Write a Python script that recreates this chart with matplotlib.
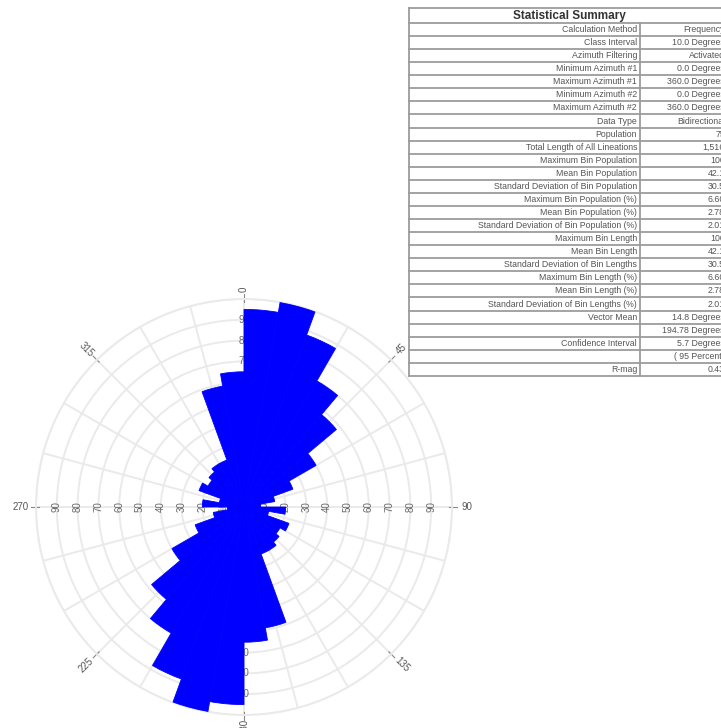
import numpy as np
import matplotlib
matplotlib.use("Agg")
import matplotlib.pyplot as plt

plt.rcParams['font.family'] = ['Liberation Sans', 'DejaVu Sans']

# rose diagram data: 10 degree classes, bidirectional
bin_start = np.arange(0, 360, 10)
bin_pop = [95, 100, 88, 70, 58, 40, 25, 15, 8,
           20, 12, 23, 20, 22, 24, 24, 59, 65,
           95, 100, 88, 70, 58, 40, 25, 15, 8,
           20, 12, 23, 20, 22, 24, 24, 59, 65]
ring_values = [10, 20, 30, 40, 50, 60, 70, 80, 90]
dir_labels = [0, 45, 90, 135, 180, 225, 270, 315]

# statistical summary table
stat_labels = ["Calculation Method", "Class Interval", "Azimuth Filtering",
               "Minimum Azimuth #1", "Maximum Azimuth #1", "Minimum Azimuth #2",
               "Maximum Azimuth #2", "Data Type", "Population",
               "Total Length of All Lineations", "Maximum Bin Population",
               "Mean Bin Population", "Standard Deviation of Bin Population",
               "Maximum Bin Population (%)", "Mean Bin Population (%)",
               "Standard Deviation of Bin Population (%)", "Maximum Bin Length",
               "Mean Bin Length", "Standard Deviation of Bin Lengths",
               "Maximum Bin Length (%)", "Mean Bin Length (%)",
               "Standard Deviation of Bin Lengths (%)", "Vector Mean", "",
               "Confidence Interval", "", "R-mag"]
stat_values = ["Frequency", "10.0 Degrees", "Activated", "0.0 Degrees",
               "360.0 Degrees", "0.0 Degrees", "360.0 Degrees", "Bidirectional",
               "75", "1,516", "100", "42.1", "30.5", "6.60", "2.78", "2.01",
               "100", "42.1", "30.5", "6.60", "2.78", "2.01", "14.8 Degrees",
               "194.78 Degrees", "5.7 Degrees", "( 95 Percent)", "0.43"]

W, H = 721, 728
fig = plt.figure(figsize=(W / 100, H / 100), dpi=100)

# ---- rose ----
cx, cy, R = 244, 507, 208
ax = fig.add_axes([(cx - R) / W, (H - cy - R) / H, 2 * R / W, 2 * R / H],
                  projection='polar')
ax.set_theta_zero_location('N')
ax.set_theta_direction(-1)
ax.set_ylim(0, 100)
ax.set_yticks(range(10, 101, 10))
ax.set_yticklabels([])
ax.set_xticks(np.deg2rad(np.arange(0, 360, 15)))
ax.set_xticklabels([])
ax.tick_params(axis='both', length=0)
ax.set_axisbelow(True)
ax.grid(True, color='#eaeaea', lw=1.4)
ax.spines['polar'].set_color('#eaeaea')
ax.spines['polar'].set_linewidth(1.4)

ax.bar(np.deg2rad(bin_start + 5), bin_pop, width=np.deg2rad(10),
       color='#0000ff', edgecolor='#0000ff', linewidth=0.6, zorder=3)

for az in [0, 90, 180, 270]:
    for r in ring_values:
        ax.text(np.deg2rad(az), r, str(r), rotation=90 if az % 180 else 0,
                ha='center', va='center', fontsize=7, color='#666666', zorder=2)

for az in dir_labels:
    th = np.deg2rad(az)
    ax.plot([th, th], [98.5, 102.5], color='#888888', lw=0.8, clip_on=False, zorder=2)
    rot = 90 - az
    while rot > 90:
        rot -= 180
    while rot <= -90:
        rot += 180
    if az == 0:
        rr = 104.6
    elif az == 180:
        rr = 105.8
    else:
        rr = 107.3
    ax.text(th, rr, str(az), rotation=rot, ha='center', va='center',
            fontsize=7, color='#555555', clip_on=False)

# ---- table ----
tl, tr, ttop = 409, 729, 8
hdr_bot = 23
row_h = 13.07
split = 640

def fx(x):
    return x / W

def fy(y):
    return 1 - y / H

line_kw = dict(color='#9c9c9c', lw=1.3, transform=fig.transFigure)
n = len(stat_labels)
bottom = hdr_bot + n * row_h
fig.add_artist(plt.Line2D([fx(tl), fx(tr)], [fy(ttop), fy(ttop)], **line_kw))
fig.add_artist(plt.Line2D([fx(tl), fx(tl)], [fy(ttop), fy(bottom)], **line_kw))
fig.add_artist(plt.Line2D([fx(split), fx(split)], [fy(hdr_bot), fy(bottom)], **line_kw))
fig.text(fx((tl + tr) / 2), fy((ttop + hdr_bot) / 2), "Statistical Summary",
         ha='center', va='center', fontsize=8.5, fontweight='bold', color='#333333')
for i in range(n + 1):
    y = hdr_bot + i * row_h
    fig.add_artist(plt.Line2D([fx(tl), fx(tr)], [fy(y), fy(y)], **line_kw))
for i, (lab, val) in enumerate(zip(stat_labels, stat_values)):
    yc = hdr_bot + (i + 0.5) * row_h
    fig.text(fx(split - 3), fy(yc), lab, ha='right', va='center',
             fontsize=6.3, color='#555555')
    fig.text(fx(725), fy(yc), val, ha='right', va='center',
             fontsize=6.3, color='#555555')

fig.savefig('out.png', dpi=100)
